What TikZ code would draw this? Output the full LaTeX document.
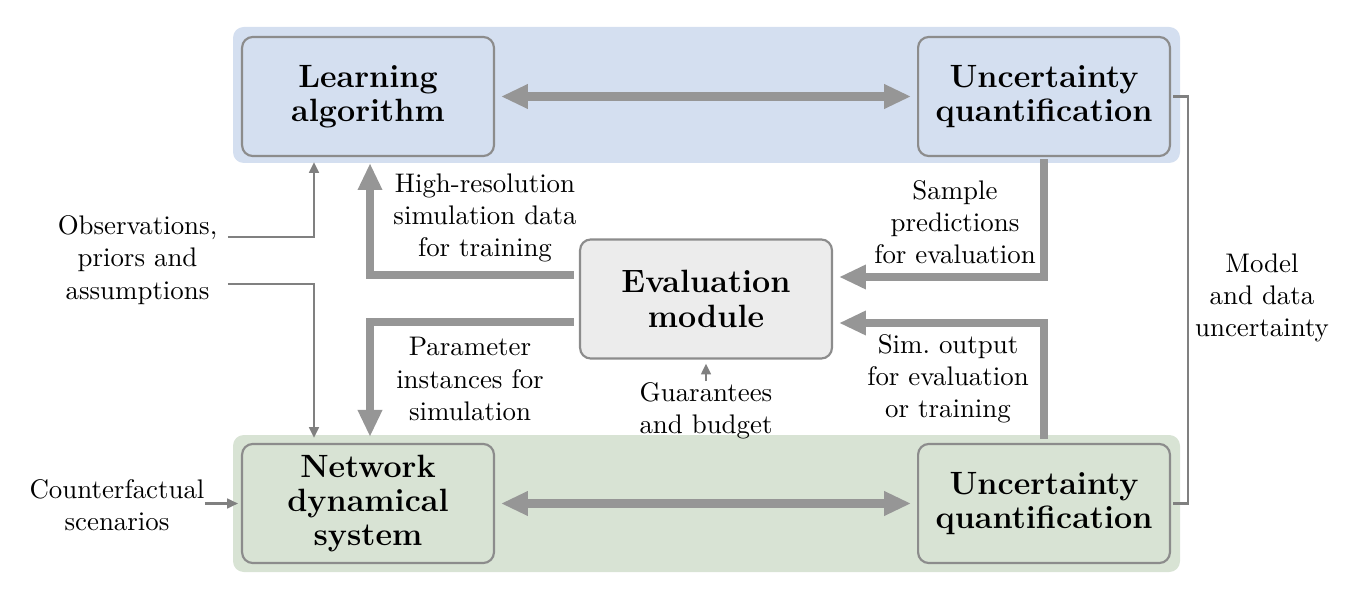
\documentclass[tikz,border=0pt]{standalone}
\usetikzlibrary{arrows.meta,calc,positioning}
\definecolor{bandblue}{RGB}{212,223,240}
\definecolor{bandgreen}{RGB}{216,227,212}
\definecolor{evalgray}{RGB}{236,236,236}
\definecolor{framegray}{RGB}{140,140,140}
\definecolor{arrowgray}{RGB}{150,150,150}
\definecolor{linegray}{RGB}{128,128,128}
\tikzset{
  blockbox/.style={draw=framegray, line width=0.8pt, rounded corners=4pt,
    minimum width=93.7pt, minimum height=44.3pt, align=center,
    font=\fontsize{12}{12.8}\selectfont\bfseries},
  band/.style={rounded corners=4pt},
  bigarrow/.style={draw=arrowgray, line width=3pt, -{Triangle[length=10pt,width=8.5pt]}},
  bigdouble/.style={draw=arrowgray, line width=3pt,
    {Triangle[length=10pt,width=8.5pt]}-{Triangle[length=10pt,width=8.5pt]},
    shorten <=2.2pt, shorten >=2.2pt},
  thinarrow/.style={draw=linegray, line width=0.85pt, -{Triangle[length=4pt,width=3.6pt]}},
  thinline/.style={draw=linegray, line width=0.85pt},
  lbl/.style={align=center, inner sep=0pt},
}
\begin{document}
\begin{tikzpicture}[x=0.372pt, y=-0.372pt]
    \useasboundingbox (0,0) rectangle (1365,600);
    % background bands
    \fill[band, bandblue] (233,27) rectangle (1180,163);
    \fill[band, bandgreen] (233,435) rectangle (1180,572);
    % blocks
    \node[blockbox, fill=bandblue] (learn) at (368,96.5) {Learning\\algorithm};
    \node[blockbox, fill=bandblue] (uqtop) at (1044,96.5) {Uncertainty\\quantification};
    \node[blockbox, fill=evalgray] (eval) at (706,299) {Evaluation\\module};
    \node[blockbox, fill=bandgreen] (netw) at (368,503.5) {Network\\dynamical\\system};
    \node[blockbox, fill=bandgreen] (uqbot) at (1044,503.5) {Uncertainty\\quantification};
    % labels
    \node[lbl] (obs) at (137.5,260) {Observations,\\priors and\\assumptions};
    \node[lbl] (cf) at (117,505) {Counterfactual\\scenarios};
    \node[lbl] (train) at (485,218) {High-resolution\\simulation data\\for training};
    \node[lbl] (param) at (470,379) {Parameter\\instances for\\simulation};
    \node[lbl] (sample) at (955,222) {Sample\\predictions\\for evaluation};
    \node[lbl] (simout) at (948,379) {Sim.~output\\for evaluation\\or training};
    \node[lbl] (guar) at (706,411) {Guarantees\\and budget};
    \node[lbl] (mdu) at (1262,298) {Model\\and data\\uncertainty};
    % main loops
    \draw[bigdouble] (learn.east) -- (uqtop.west);
    \draw[bigdouble] (netw.east) -- (uqbot.west);
    \draw[bigarrow] ($(eval.west)+(-5,-24)$) -| ($(learn.south)+(2,6)$);
    \draw[bigarrow] ($(eval.west)+(-5,23)$) -| ($(netw.north)+(2,-6)$);
    \draw[bigarrow] ($(uqtop.south)+(0,2)$) |- ($(eval.east)+(6,-22)$);
    \draw[bigarrow] ($(uqbot.north)+(0,-4)$) |- ($(eval.east)+(6,24)$);
    % inputs
    \draw[thinarrow] ($(obs.east)+(10,-23)$) -| ($(learn.south)+(-54,5)$);
    \draw[thinarrow] ($(obs.east)+(10,24)$) -| ($(netw.north)+(-54,-5)$);
    \draw[thinarrow] (cf.east |- netw.west) -- ($(netw.west)+(-3,0)$);
    \draw[thinarrow] ($(guar.north)+(0,-1)$) -- ($(eval.south)+(0,4)$);
    % uncertainty bracket
    \draw[thinline] ($(uqtop.east)+(2,0)$) -- ++(15,0) |- ($(uqbot.east)+(2,0)$);
\end{tikzpicture}
\end{document}
